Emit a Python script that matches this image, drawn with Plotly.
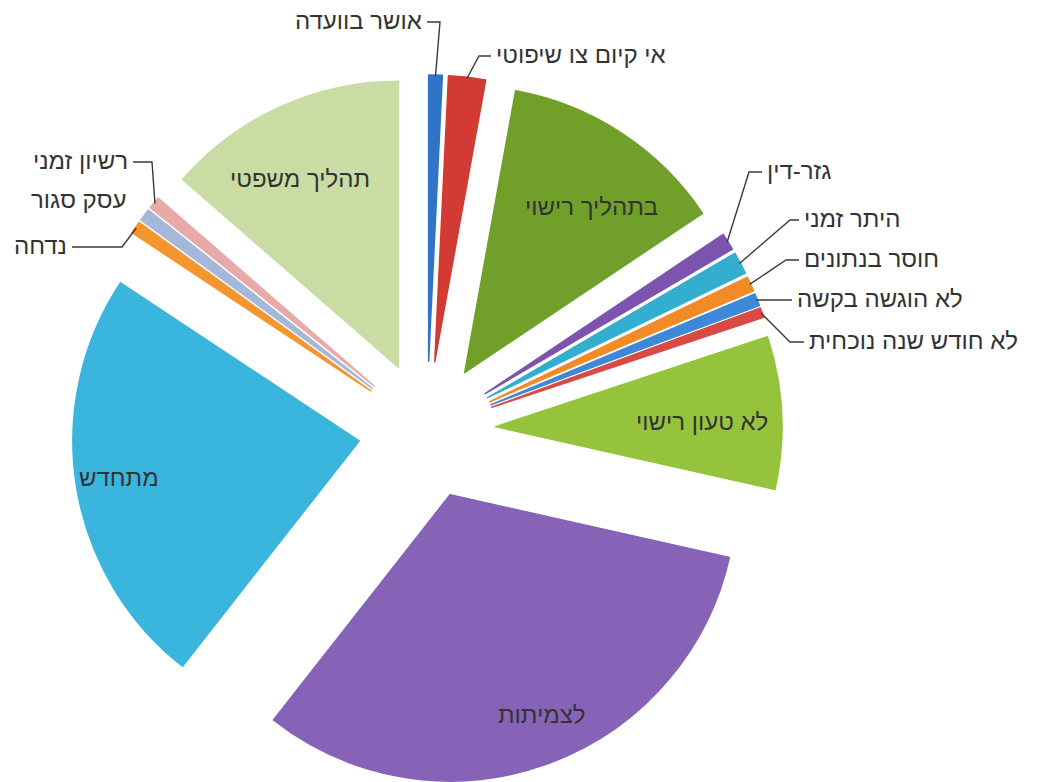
import math
import plotly.graph_objects as go

# ---------------- data ----------------
categories = ["אושר בוועדה", "אי קיום צו שיפוטי", "בתהליך רישוי", "גזר-דין", "היתר זמני",
              "חוסר בנתונים", "לא הוגשה בקשה", "לא חודש שנה נוכחית", "לא טעון רישוי",
              "לצמיתות", "מתחדש", "נדחה", "עסק סגור", "רשיון זמני", "תהליך משפטי"]
counts = [11, 30, 184, 14, 18, 12, 10, 8, 124, 462, 342, 10, 10, 10, 196]

# ---------------- style ----------------
colors = ["#2F74C6", "#D23A33", "#70A02A", "#7C54AE", "#34AECF",
          "#F08B28", "#3E88DA", "#D94A45", "#95C43C", "#8663B6",
          "#3AB5DD", "#F4952F", "#A6B8DA", "#E8AAA8", "#C9DCA4"]

W, H = 1039, 782
OFF = 8            # page body margin of the rendered html
PULL = 0.24
SCR_C = (427, 430)  # desired pie centre on screen
R_TOT = 355         # radius incl. pull on screen
FONT = "Liberation Sans, DejaVu Sans, Arial, sans-serif"
TXT = "#333333"
LINE = "#3a3a3a"
FS = 24

DOM_X = [(SCR_C[0] - OFF - R_TOT) / W, (SCR_C[0] - OFF + R_TOT) / W]
DOM_Y = [max(0.0, 1 - (SCR_C[1] - OFF + R_TOT) / H), 1 - (SCR_C[1] - OFF - R_TOT) / H]

# labels inside bigger slices: (radial factor of radius from slice vertex, angle tweak deg)
inside = {"בתהליך רישוי": (0.73, 4), "לא טעון רישוי": (0.72, 1.5), "לצמיתות": (0.83, -3),
          "מתחדש": (0.85, 0.5), "תהליך משפטי": (0.745, -3)}
# labels outside with leader lines: (anchor screen x, anchor screen y, side, elbow gap)
outside = {
    "אושר בוועדה": (427, 22, "right", 13),
    "אי קיום צו שיפוטי": (491, 56, "left", 12),
    "גזר-דין": (762, 172, "left", 13),
    "היתר זמני": (799, 220, "left", 9),
    "חוסר בנתונים": (799, 260, "left", 13),
    "לא הוגשה בקשה": (792, 300, "left", 4),
    "לא חודש שנה נוכחית": (804, 342, "left", 14),
    "רשיון זמני": (133, 162, "right", 19),
    "עסק סגור": (131, 201, "right", None),
    "נדחה": (72, 247, "right", 50),
}

# ---------------- geometry (same as plotly's pie layout) ----------------
box_w = (DOM_X[1] - DOM_X[0]) * W
box_h = (DOM_Y[1] - DOM_Y[0]) * H
r = min(box_w, box_h) / (2 + 2 * PULL)
d = PULL * r
cx = W * (DOM_X[0] + DOM_X[1]) / 2 + OFF
cy = H * (1 - (DOM_Y[0] + DOM_Y[1]) / 2) + OFF
total = float(sum(counts))


def px2paper(x, y):
    return (x - OFF) / W, 1 - (y - OFF) / H


fig = go.Figure(go.Pie(
    labels=categories, values=counts, sort=False, direction="clockwise", rotation=0,
    pull=[PULL] * len(counts), marker=dict(colors=colors, line=dict(width=1.5, color=colors)),
    textinfo="none", hoverinfo="label+value+percent", domain=dict(x=DOM_X, y=DOM_Y),
    showlegend=False,
))

annotations = []
shapes = []
cum = 0.0
for name, v in zip(categories, counts):
    a0 = cum / total * 2 * math.pi
    cum += v
    a1 = cum / total * 2 * math.pi
    b = (a0 + a1) / 2
    ux, uy = math.sin(b), -math.cos(b)
    vx, vy = cx + d * ux, cy + d * uy
    if name in inside:
        k, tw = inside[name]
        bb = b + math.radians(tw)
        lx, ly = px2paper(vx + k * r * math.sin(bb), vy - k * r * math.cos(bb))
        annotations.append(dict(x=lx, y=ly, xref="paper", yref="paper", text=name,
                                showarrow=False, xanchor="center", yanchor="middle",
                                font=dict(family=FONT, size=FS, color=TXT)))
    elif name in outside:
        ax, ay, side, gap = outside[name]
        tipx, tipy = vx + (r - 1) * ux, vy + (r - 1) * uy
        pad = 3
        if side == "left":
            tx = ax + pad
            ex = ax - (gap or 0)
        else:
            tx = ax - pad
            ex = ax + (gap or 0)
        px, py = px2paper(tx, ay - 2)
        annotations.append(dict(x=px, y=py, xref="paper", yref="paper", text=name,
                                showarrow=False, xanchor=side, yanchor="middle",
                                font=dict(family=FONT, size=FS, color=TXT)))
        if gap is not None:
            p0 = px2paper(tipx, tipy)
            p1 = px2paper(ex, ay)
            p2 = px2paper(ax, ay)
            shapes.append(dict(type="path", xref="paper", yref="paper",
                               path=f"M {p0[0]:.5f},{p0[1]:.5f} L {p1[0]:.5f},{p1[1]:.5f} L {p2[0]:.5f},{p2[1]:.5f}",
                               line=dict(color=LINE, width=1.4)))

fig.update_layout(
    width=W, height=H, margin=dict(l=0, r=0, t=0, b=0),
    paper_bgcolor="white", plot_bgcolor="white",
    annotations=annotations, shapes=shapes,
)

fig.write_html("out.html")
